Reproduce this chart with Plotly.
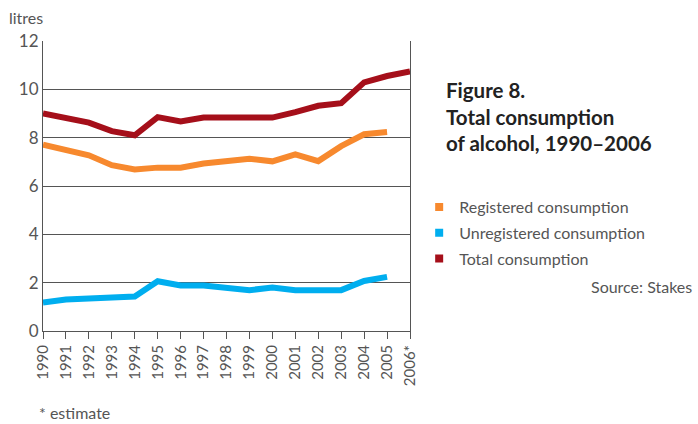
import plotly.graph_objects as go

years = [str(y) for y in range(1990, 2006)] + ["2006*"]

registered = [7.71, 7.5, 7.27, 6.86, 6.68, 6.76, 6.76, 6.93, 7.02, 7.13, 7.02, 7.31, 7.03, 7.65, 8.14, 8.23]
unregistered = [1.18, 1.3, 1.35, 1.42, 1.43, 2.06, 1.88, 1.88, 1.78, 1.69, 1.8, 1.69, 1.69, 1.69, 2.07, 2.24]
total = [9.0, 8.81, 8.62, 8.27, 8.1, 8.85, 8.67, 8.83, 8.83, 8.83, 8.83, 9.06, 9.32, 9.43, 10.29, 10.55, 10.74]

names = ["Registered consumption", "Unregistered consumption", "Total consumption"]
colors = ["#F7892E", "#00AEEF", "#A50F1A"]
series = [registered, unregistered, total]

grey = "#555555"
font = "Lato"

fig = go.Figure()
for name, col, vals in zip(names, colors, series):
    fig.add_trace(go.Scatter(x=years[:len(vals)], y=vals, mode="lines",
                             line=dict(color=col, width=6), showlegend=False))
    # square swatch for the legend
    fig.add_trace(go.Scatter(x=[None], y=[None], mode="markers", name=name,
                             legendgroup=name,
                             marker=dict(color=col, size=8, symbol="square")))

fig.update_layout(
    width=698, height=424,
    margin=dict(l=43, r=288, t=41, b=93),
    paper_bgcolor="white", plot_bgcolor="white",
    font=dict(family=font, color=grey, size=15),
    legend=dict(x=1.025, y=0.486, xanchor="left", yanchor="top",
                font=dict(size=16, color=grey), itemwidth=30,
                traceorder="grouped", tracegroupgap=2, bgcolor="rgba(0,0,0,0)"),
    xaxis=dict(type="category", range=[0, 16], showgrid=False,
               showline=True, linecolor=grey, linewidth=1, mirror=False,
               ticks="outside", ticklen=7, tickcolor=grey, tickangle=-90,
               tickfont=dict(size=15, color=grey)),
    yaxis=dict(range=[0, 12], dtick=2, showgrid=True, gridcolor=grey, gridwidth=1,
               showline=True, linecolor=grey, linewidth=1, mirror=True,
               zeroline=False, ticks="", tickfont=dict(size=17, color=grey)),
    annotations=[
        dict(text="litres", xref="paper", yref="paper", x=-0.097, y=1.08,
             xanchor="left", yanchor="middle", showarrow=False, font=dict(size=16)),
        dict(text="<b>Figure 8.<br>Total consumption<br>of alcohol, 1990–2006</b>",
             xref="paper", yref="paper", x=1.092, y=0.881, xanchor="left", yanchor="top",
             align="left", showarrow=False, font=dict(size=20.5, color="#222222")),
        dict(text="Source: Stakes", xref="paper", yref="paper", x=1.775, y=0.155,
             xanchor="right", yanchor="middle", showarrow=False, font=dict(size=16, color=grey)),
        dict(text="* estimate", xref="paper", yref="paper", x=-0.015, y=-0.28,
             xanchor="left", yanchor="middle", showarrow=False, font=dict(size=16, color=grey)),
    ],
)

fig.write_html("out.html", config={"displayModeBar": False},
               post_script="document.body.style.margin='0';")
